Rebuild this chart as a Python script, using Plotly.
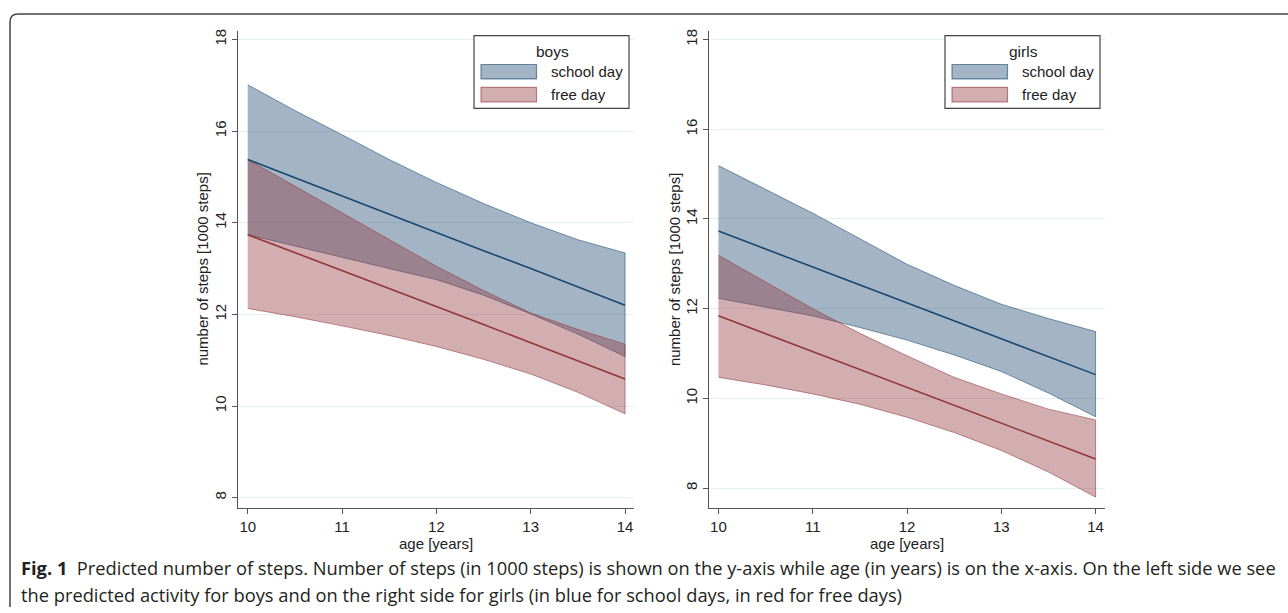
import plotly.graph_objects as go

W, H = 1288, 613

# ---------------- data ----------------
ages = [10, 10.5, 11, 11.5, 12, 12.5, 13, 13.5, 14]

boys_school_mean = [15.38, 14.98, 14.58, 14.18, 13.79, 13.39, 13.00, 12.60, 12.20]
boys_school_upper = [17.01, 16.45, 15.92, 15.38, 14.88, 14.42, 14.00, 13.63, 13.34]
boys_school_lower = [13.74, 13.50, 13.25, 13.00, 12.76, 12.42, 12.01, 11.57, 11.08]
boys_free_mean = [13.74, 13.35, 12.96, 12.56, 12.17, 11.78, 11.38, 10.98, 10.59]
boys_free_upper = [15.38, 14.80, 14.22, 13.63, 13.05, 12.52, 12.03, 11.67, 11.35]
boys_free_lower = [12.13, 11.95, 11.75, 11.54, 11.30, 11.02, 10.70, 10.30, 9.83]

girls_school_mean = [13.73, 13.33, 12.93, 12.53, 12.13, 11.73, 11.33, 10.93, 10.53]
girls_school_upper = [15.19, 14.66, 14.13, 13.56, 12.99, 12.52, 12.10, 11.78, 11.49]
girls_school_lower = [12.23, 12.04, 11.84, 11.58, 11.30, 10.97, 10.60, 10.12, 9.59]
girls_free_mean = [11.84, 11.44, 11.04, 10.64, 10.24, 9.85, 9.45, 9.05, 8.65]
girls_free_upper = [13.19, 12.60, 12.00, 11.45, 10.95, 10.47, 10.10, 9.76, 9.52]
girls_free_lower = [10.47, 10.30, 10.10, 9.87, 9.58, 9.24, 8.84, 8.36, 7.80]

x_ticks = [10, 11, 12, 13, 14]
y_ticks = [8, 10, 12, 14, 16, 18]
panel_titles = ["boys", "girls"]
series_names = ["school day", "free day"]
x_title = "age [years]"
y_title = "number of steps [1000 steps]"
caption_1 = ("<b>Fig. 1</b>\u00a0\u00a0Predicted number of steps. Number of steps (in 1000 steps) is shown "
             "on the y-axis while age (in years) is on the x-axis. On the left side we see")
caption_2 = ("the predicted activity for boys and on the right side for girls "
             "(in blue for school days, in red for free days)")

# ---------------- styles ----------------
NAVY = (26, 71, 111)
MAROON = (144, 53, 59)
def rgba(c, a):
    return "rgba(%d,%d,%d,%s)" % (c[0], c[1], c[2], a)

FILL_A = 0.4
EDGE_A = 0.55
AXIS_FONT = "Liberation Sans, Arial, sans-serif"
CAP_FONT = "Open Sans, Noto Sans, sans-serif"

def px(x):
    return x / W
def py(y):
    return 1 - y / H

fig = go.Figure()

panels = [
    dict(xa="x", ya="y",
         school=(boys_school_upper, boys_school_mean, boys_school_lower),
         free=(boys_free_upper, boys_free_mean, boys_free_lower)),
    dict(xa="x2", ya="y2",
         school=(girls_school_upper, girls_school_mean, girls_school_lower),
         free=(girls_free_upper, girls_free_mean, girls_free_lower)),
]

for p in panels:
    bands = [(p["school"], NAVY, series_names[0]), (p["free"], MAROON, series_names[1])]
    for (up, mean, lo), col, name in bands:
        fig.add_trace(go.Scatter(
            x=ages + ages[::-1], y=up + lo[::-1],
            fill="toself", fillcolor=rgba(col, FILL_A),
            line=dict(color=rgba(col, EDGE_A), width=1),
            mode="lines", name=name, showlegend=False,
            xaxis=p["xa"], yaxis=p["ya"], hoverinfo="skip"))
    for (up, mean, lo), col, name in bands:
        fig.add_trace(go.Scatter(
            x=ages, y=mean, mode="lines",
            line=dict(color=rgba(col, 1), width=1.6),
            name=name, showlegend=False,
            xaxis=p["xa"], yaxis=p["ya"]))

# ---------------- axes ----------------
common_x = dict(tickvals=x_ticks, ticks="outside", ticklen=5, tickwidth=1.2,
                tickcolor="#555555", showline=True, linecolor="#555555", linewidth=1.3,
                showgrid=False, zeroline=False,
                tickfont=dict(family=AXIS_FONT, size=15, color="#222222"))
common_y = dict(tickvals=y_ticks, ticks="outside", ticklen=5, tickwidth=1.2,
                tickcolor="#555555", showline=True, linecolor="#555555", linewidth=1.3,
                showgrid=True, gridcolor="#E7EFF1", gridwidth=1, zeroline=False,
                tickangle=-90,
                tickfont=dict(family=AXIS_FONT, size=15, color="#222222"))

fig.update_layout(
    xaxis=dict(domain=[px(238), px(634)], range=[9.897, 14.095], anchor="y", **common_x),
    yaxis=dict(domain=[py(507.7), py(29.3)], range=[7.774, 18.18], anchor="x", **common_y),
    xaxis2=dict(domain=[px(709), px(1105)], range=[9.90, 14.10], anchor="y2", **common_x),
    yaxis2=dict(domain=[py(507.3), py(29.3)], range=[7.564, 18.187], anchor="x2", **common_y),
)

annotations = []
shapes = []

# axis titles
for xc in [436, 907]:
    annotations.append(dict(text=x_title, x=px(xc), y=py(543), xref="paper", yref="paper",
                            xanchor="center", yanchor="middle", showarrow=False,
                            font=dict(family=AXIS_FONT, size=15, color="#222222")))
for xc in [203, 674.5]:
    annotations.append(dict(text=y_title, x=px(xc), y=py(268.5), xref="paper", yref="paper",
                            xanchor="center", yanchor="middle", showarrow=False, textangle=-90,
                            font=dict(family=AXIS_FONT, size=15, color="#222222")))

# legends (drawn as boxes)
legend_boxes = [(474, 629), (945, 1100)]
for (lx0, lx1), title in zip(legend_boxes, panel_titles):
    shapes.append(dict(type="rect", xref="paper", yref="paper",
                       x0=px(lx0), x1=px(lx1), y0=py(106.7), y1=py(33.7),
                       line=dict(color="#444444", width=1.2), fillcolor="white", layer="above"))
    annotations.append(dict(text=title, x=px((lx0 + lx1) / 2 + 1), y=py(50), xref="paper",
                            yref="paper", xanchor="center", yanchor="middle", showarrow=False,
                            font=dict(family=AXIS_FONT, size=15.5, color="#222222")))
    for i, (name, col) in enumerate(zip(series_names, [NAVY, MAROON])):
        top = 62.7 + i * 23
        shapes.append(dict(type="rect", xref="paper", yref="paper",
                           x0=px(lx0 + 7), x1=px(lx0 + 62.5), y0=py(top + 14.5), y1=py(top),
                           line=dict(color=rgba(col, 0.6), width=1.2),
                           fillcolor=rgba(col, FILL_A), layer="above"))
        annotations.append(dict(text=name, x=px(lx0 + 74.5), y=py(top + 7.5), xref="paper",
                                yref="paper", xanchor="left", yanchor="middle", showarrow=False,
                                font=dict(family=AXIS_FONT, size=15, color="#222222")))

# figure frame (rounded top-left corner)
frame_path = "M %f %f L %f %f Q %f %f %f %f L %f %f" % (
    px(10), py(607), px(10), py(20), px(10), py(12), px(18), py(12), px(1288), py(12))
shapes.append(dict(type="path", path=frame_path, xref="paper", yref="paper",
                   line=dict(color="#444444", width=1.5)))

# caption
annotations.append(dict(text=caption_1, x=px(19), y=py(567), xref="paper", yref="paper",
                        xanchor="left", yanchor="middle", showarrow=False,
                        font=dict(family=CAP_FONT, size=18.3, color="#231F20")))
annotations.append(dict(text=caption_2, x=px(19), y=py(594), xref="paper", yref="paper",
                        xanchor="left", yanchor="middle", showarrow=False,
                        font=dict(family=CAP_FONT, size=18.3, color="#231F20")))

fig.update_layout(
    width=W, height=H,
    margin=dict(l=0, r=0, t=0, b=0),
    paper_bgcolor="white", plot_bgcolor="white",
    showlegend=False,
    annotations=annotations, shapes=shapes,
)

fig.write_html("out.html", config={"displayModeBar": False},
               post_script="document.body.style.margin='0';document.body.style.overflow='hidden';")
